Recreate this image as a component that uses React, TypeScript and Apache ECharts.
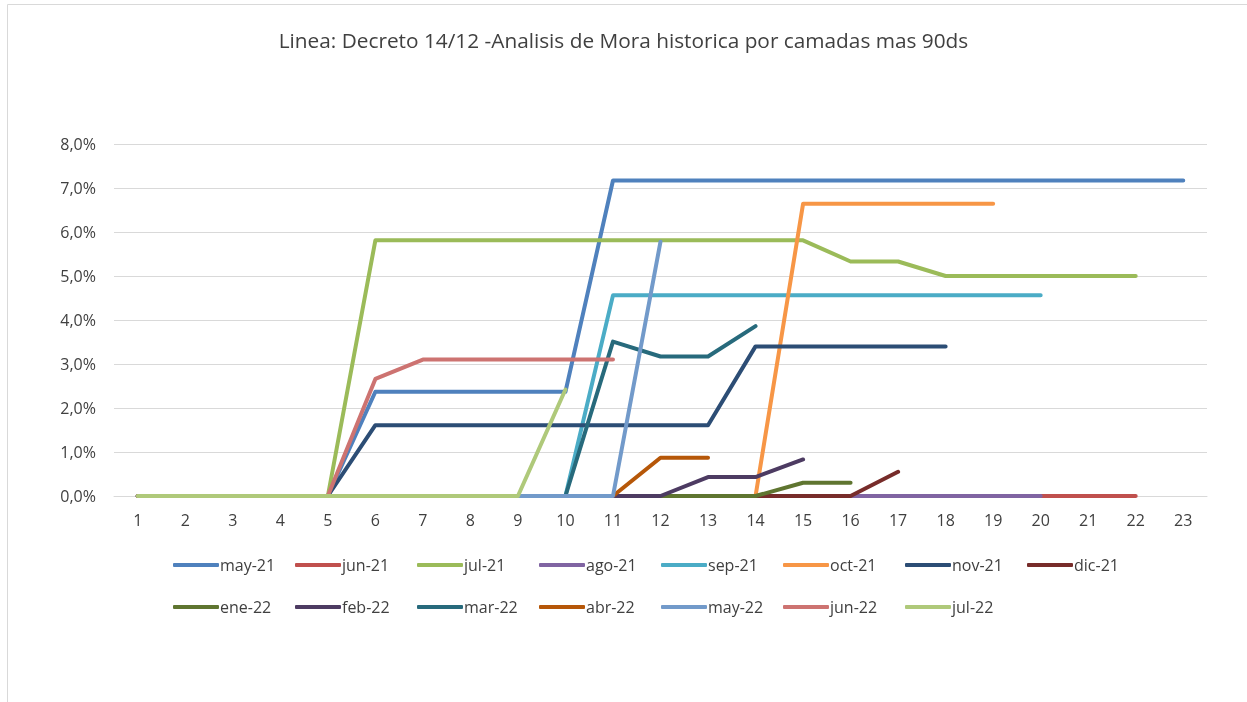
import React, { useEffect, useRef } from "react";
import * as echarts from "echarts";

const categories = ["1","2","3","4","5","6","7","8","9","10","11","12","13","14","15","16","17","18","19","20","21","22","23"];

const seriesNames = ["may-21","jun-21","jul-21","ago-21","sep-21","oct-21","nov-21","dic-21","ene-22","feb-22","mar-22","abr-22","may-22","jun-22","jul-22"];

const colors = ["#4F81BD","#C0504D","#9BBB59","#8064A2","#4BACC6","#F79646","#2C4D75","#772C2A","#5F7530","#4D3B62","#276A7C","#B65708","#729ACA","#CD7371","#AFC97A"];

const may21 = [0,0,0,0,0,2.37,2.37,2.37,2.37,2.37,7.17,7.17,7.17,7.17,7.17,7.17,7.17,7.17,7.17,7.17,7.17,7.17,7.17];
const jun21 = [0,0,0,0,0,0,0,0,0,0,0,0,0,0,0,0,0,0,0,0,0,0];
const jul21 = [0,0,0,0,0,5.81,5.81,5.81,5.81,5.81,5.81,5.81,5.81,5.81,5.81,5.33,5.33,5.0,5.0,5.0,5.0,5.0];
const ago21 = [0,0,0,0,0,0,0,0,0,0,0,0,0,0,0,0,0,0,0,0];
const sep21 = [0,0,0,0,0,0,0,0,0,0,4.56,4.56,4.56,4.56,4.56,4.56,4.56,4.56,4.56,4.56];
const oct21 = [0,0,0,0,0,0,0,0,0,0,0,0,0,0,6.64,6.64,6.64,6.64,6.64];
const nov21 = [0,0,0,0,0,1.61,1.61,1.61,1.61,1.61,1.61,1.61,1.61,3.40,3.40,3.40,3.40,3.40];
const dic21 = [0,0,0,0,0,0,0,0,0,0,0,0,0,0,0,0,0.55];
const ene22 = [0,0,0,0,0,0,0,0,0,0,0,0,0,0,0.30,0.30];
const feb22 = [0,0,0,0,0,0,0,0,0,0,0,0,0.43,0.43,0.83];
const mar22 = [0,0,0,0,0,0,0,0,0,0,3.51,3.17,3.17,3.86];
const abr22 = [0,0,0,0,0,0,0,0,0,0,0,0.87,0.87];
const may22 = [0,0,0,0,0,0,0,0,0,0,0,5.78];
const jun22 = [0,0,0,0,0,2.66,3.10,3.10,3.10,3.10,3.10];
const jul22 = [0,0,0,0,0,0,0,0,0,2.42];

const seriesData = [may21,jun21,jul21,ago21,sep21,oct21,nov21,dic21,ene22,feb22,mar22,abr22,may22,jun22,jul22];

const FONT = "'Open Sans', 'Noto Sans', sans-serif";

export default function App() {
  const ref = useRef<HTMLDivElement>(null);
  useEffect(() => {
    if (!ref.current) return;
    const chart = echarts.init(ref.current, undefined, { renderer: "svg" });
    const legends = seriesNames.map((name, i) => {
      const row = i < 8 ? 0 : 1;
      const col = i < 8 ? i : i - 8;
      return {
        data: [name],
        left: 168 + col * 122,
        top: row === 0 ? 552 : 594,
        icon: "roundRect",
        itemWidth: 46,
        itemHeight: 4,
        itemGap: 0,
        textStyle: { color: "#404040", fontSize: 16, fontFamily: FONT, padding: [0, 0, 0, -4] },
      };
    });
    chart.setOption({
      animation: false,
      color: colors,
      title: {
        text: "Linea: Decreto 14/12 -Analisis de Mora historica por camadas mas 90ds",
        left: "center",
        top: 24,
        textStyle: { color: "#404040", fontSize: 20.8, fontWeight: "normal", fontFamily: FONT },
      },
      graphic: [
        {
          type: "rect",
          shape: { x: 7.5, y: 4.5, width: 1400, height: 900 },
          style: { fill: "none", stroke: "#D9D9D9", lineWidth: 1 },
          silent: true,
        },
      ],
      legend: legends,
      grid: { left: 114, right: 40, top: 144, bottom: 206, containLabel: false },
      xAxis: {
        type: "category",
        data: categories,
        boundaryGap: true,
        axisLine: { lineStyle: { color: "#D9D9D9", width: 1 } },
        axisTick: { show: false },
        axisLabel: { color: "#404040", fontSize: 16, fontFamily: FONT, margin: 16 },
      },
      yAxis: {
        type: "value",
        min: 0,
        max: 8,
        interval: 1,
        axisLine: { show: false },
        axisTick: { show: false },
        splitLine: { lineStyle: { color: "#D9D9D9", width: 1 } },
        axisLabel: {
          color: "#404040",
          fontSize: 16,
          fontFamily: FONT,
          margin: 18,
          formatter: (v: number) => v.toFixed(1).replace(".", ",") + "%",
        },
      },
      series: seriesNames.map((name, i) => ({
        name,
        type: "line",
        data: seriesData[i],
        symbol: "none",
        lineStyle: { width: 4, color: colors[i], cap: "round", join: "round" },
        itemStyle: { color: colors[i] },
      })),
    });
    return () => chart.dispose();
  }, []);
  return <div ref={ref} style={{ position: "fixed", left: 0, top: 0, width: 1247, height: 702 }} />;
}
